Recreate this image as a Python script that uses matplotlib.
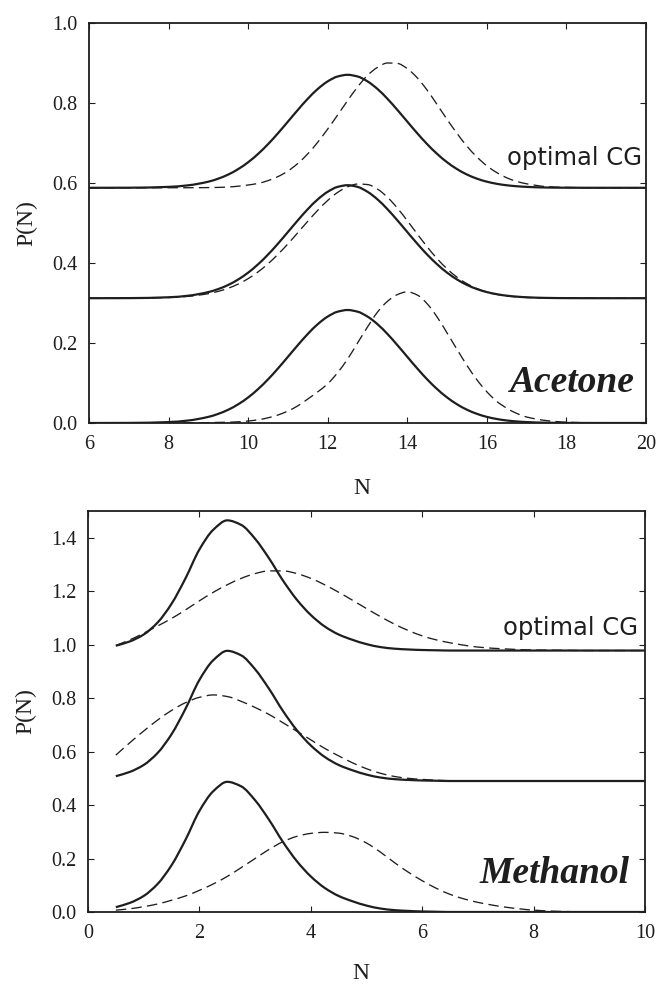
import matplotlib
matplotlib.use("Agg")
import numpy as np
import matplotlib.pyplot as plt
from matplotlib.path import Path
from matplotlib.patches import PathPatch
from matplotlib.ticker import FormatStrFormatter

plt.rcParams['font.family'] = ['Liberation Serif', 'DejaVu Serif']
plt.rcParams['lines.scale_dashes'] = False

# ---------------- Acetone (top panel) ----------------
N_ace = [6, 7, 8, 8.5, 9, 9.25, 9.5, 9.75, 10, 10.25, 10.5, 10.75, 11, 11.25, 11.5,
         11.75, 12, 12.25, 12.5, 12.75, 13, 13.25, 13.5, 13.75, 14, 14.25, 14.5,
         14.75, 15, 15.25, 15.5, 15.75, 16, 16.25, 16.5, 16.75, 17, 17.5, 18, 19, 20]
# reference (solid) distribution
ace_ref = [0.0, 0.0002, 0.0023, 0.0063, 0.0153, 0.0229, 0.0332, 0.0468, 0.0639, 0.0848,
           0.1091, 0.1364, 0.1655, 0.1948, 0.2227, 0.2471, 0.2661, 0.2783, 0.2825, 0.2783,
           0.2661, 0.2471, 0.2227, 0.1948, 0.1655, 0.1364, 0.1091, 0.0848, 0.0639, 0.0468,
           0.0332, 0.0229, 0.0153, 0.0100, 0.0063, 0.0039, 0.0023, 0.0007, 0.0002, 0.0, 0.0]
# CG models (dashed), bottom -> top
ace_cg1 = [0.0, 0.0, 0.0, 0.0, 0.001, 0.0015, 0.002, 0.003, 0.005, 0.008, 0.013, 0.020,
           0.030, 0.043, 0.060, 0.078, 0.098, 0.126, 0.160, 0.200, 0.240, 0.277, 0.304,
           0.321, 0.328, 0.320, 0.298, 0.265, 0.225, 0.184, 0.144, 0.108, 0.078, 0.054,
           0.037, 0.024, 0.015, 0.006, 0.002, 0.0, 0.0]
ace_cg2 = [0.0, 0.0002, 0.0017, 0.0047, 0.0114, 0.0171, 0.0249, 0.0354, 0.0489, 0.0658,
           0.0861, 0.1097, 0.1359, 0.1639, 0.1925, 0.2198, 0.2444, 0.2645, 0.2785, 0.2854,
           0.2841, 0.2728, 0.2526, 0.2254, 0.1938, 0.1607, 0.1284, 0.0989, 0.0734, 0.0526,
           0.0363, 0.0241, 0.0154, 0.0095, 0.0057, 0.0033, 0.0018, 0.0005, 0.0001, 0.0, 0.0]
ace_cg3 = [0.0, 0.0, 0.0001, 0.0002, 0.0005, 0.001, 0.002, 0.004, 0.007, 0.011, 0.018,
           0.028, 0.042, 0.061, 0.085, 0.114, 0.147, 0.182, 0.218, 0.252, 0.281, 0.301,
           0.312, 0.311, 0.298, 0.275, 0.244, 0.208, 0.171, 0.136, 0.104, 0.077, 0.055,
           0.038, 0.025, 0.016, 0.010, 0.003, 0.001, 0.0, 0.0]
ace_offsets = [0.0, 0.312, 0.588]

# ---------------- Methanol (bottom panel) ----------------
N_met = [0.5, 0.75, 1.0, 1.25, 1.5, 1.75, 2.0, 2.25, 2.5, 2.75, 3.0, 3.25, 3.5, 3.75,
         4.0, 4.25, 4.5, 4.75, 5.0, 5.25, 5.5, 5.75, 6.0, 6.25, 6.5, 6.75, 7.0, 7.5,
         8.0, 8.5, 9.0, 9.5, 10.0]
met_ref = [0.018, 0.034, 0.060, 0.105, 0.175, 0.270, 0.378, 0.452, 0.487, 0.470, 0.418,
           0.345, 0.262, 0.190, 0.133, 0.090, 0.060, 0.040, 0.024, 0.013, 0.007, 0.004,
           0.002, 0.001, 0.0, 0.0, 0.0, 0.0, 0.0, 0.0, 0.0, 0.0, 0.0]
met_cg1 = [0.007, 0.012, 0.020, 0.030, 0.044, 0.060, 0.081, 0.105, 0.133, 0.166, 0.200,
           0.234, 0.263, 0.283, 0.294, 0.298, 0.295, 0.282, 0.258, 0.224, 0.185, 0.149,
           0.117, 0.089, 0.066, 0.049, 0.036, 0.018, 0.007, 0.002, 0.0005, 0.0, 0.0]
met_cg2 = [0.097, 0.143, 0.187, 0.228, 0.264, 0.293, 0.313, 0.322, 0.316, 0.298, 0.275,
           0.249, 0.218, 0.186, 0.154, 0.122, 0.094, 0.068, 0.046, 0.029, 0.017, 0.010,
           0.006, 0.003, 0.001, 0.0, 0.0, 0.0, 0.0, 0.0, 0.0, 0.0, 0.0]
met_cg3 = [0.019, 0.040, 0.065, 0.092, 0.120, 0.152, 0.186, 0.218, 0.246, 0.270, 0.288,
           0.298, 0.298, 0.288, 0.270, 0.246, 0.218, 0.188, 0.157, 0.127, 0.099, 0.075,
           0.055, 0.040, 0.029, 0.020, 0.013, 0.006, 0.002, 0.001, 0.0, 0.0, 0.0]
met_offsets = [0.0, 0.49, 0.978]

COL = '#1e1e1e'
W, H = 658, 986
fig = plt.figure(figsize=(W / 100, H / 100), dpi=100)


def px_axes(l, t, r, b):
    return fig.add_axes([l / W, 1 - b / H, (r - l) / W, (b - t) / H])


def smooth_path(x, y):
    """Monotone cubic Bezier path passing through the given data points."""
    x = np.asarray(x, float)
    y = np.asarray(y, float)
    h = np.diff(x)
    d = np.diff(y) / h
    m = np.zeros_like(y)
    m[0], m[-1] = d[0], d[-1]
    for k in range(1, len(x) - 1):
        if d[k - 1] * d[k] <= 0:
            m[k] = 0.0
        else:
            w1 = 2 * h[k] + h[k - 1]
            w2 = h[k] + 2 * h[k - 1]
            m[k] = (w1 + w2) / (w1 / d[k - 1] + w2 / d[k])
    verts = [(x[0], y[0])]
    codes = [Path.MOVETO]
    for k in range(len(x) - 1):
        verts += [(x[k] + h[k] / 3, y[k] + m[k] * h[k] / 3),
                  (x[k + 1] - h[k] / 3, y[k + 1] - m[k + 1] * h[k] / 3),
                  (x[k + 1], y[k + 1])]
        codes += [Path.CURVE4] * 3
    return Path(verts, codes)


def curve(ax, N, vals, off, dashed):
    p = smooth_path(N, [v + off for v in vals])
    if dashed:
        patch = PathPatch(p, fill=False, edgecolor=COL, lw=0.95,
                          linestyle=(0, (7.5, 3.8)), capstyle='butt')
    else:
        patch = PathPatch(p, fill=False, edgecolor=COL, lw=1.6)
    ax.add_patch(patch)


def style(ax, xlim, ylim, xticks, yticks, xlabel_y):
    ax.set_xticks(xticks)
    ax.set_yticks(yticks)
    ax.set_xlim(*xlim)
    ax.set_ylim(*ylim)
    ax.yaxis.set_major_formatter(FormatStrFormatter('%.1f'))
    ax.tick_params(direction='in', top=True, right=True, length=4.5, width=0.8,
                   pad=8.5, labelsize=14.5, colors=COL)
    for s in ax.spines.values():
        s.set_linewidth(1.3)
        s.set_color(COL)
    ax.set_xlabel('N', fontsize=17, color=COL, va='baseline')
    ax.set_ylabel('P(N)', fontsize=17, color=COL)
    ax.yaxis.set_label_coords(-0.093, 0.5)
    ax.xaxis.set_label_coords(0.49, xlabel_y)


def draw(ax, N, ref, cgs, offsets):
    for cg, off in zip(cgs, offsets):
        curve(ax, N, cg, off, True)
    for off in offsets:
        curve(ax, N, ref, off, False)


# Top panel
ax1 = px_axes(89, 23, 646, 423)
draw(ax1, N_ace, ace_ref, [ace_cg1, ace_cg2, ace_cg3], ace_offsets)
style(ax1, (6, 20), (0, 1.0), [6, 8, 10, 12, 14, 16, 18, 20],
      [0.0, 0.2, 0.4, 0.6, 0.8, 1.0], -0.178)
ax1.text(19.9, 0.645, 'optimal CG', family='DejaVu Sans', fontsize=17.5,
         ha='right', va='baseline', color=COL)
ax1.text(19.72, 0.078, 'Acetone', fontsize=27, fontweight='bold', fontstyle='italic',
         ha='right', va='baseline', color=COL)

# Bottom panel
ax2 = px_axes(88, 511, 645, 912)
draw(ax2, N_met, met_ref, [met_cg1, met_cg2, met_cg3], met_offsets)
style(ax2, (0, 10), (0, 1.5), [0, 2, 4, 6, 8, 10],
      [0.0, 0.2, 0.4, 0.6, 0.8, 1.0, 1.2, 1.4], -0.168)
ax2.text(9.87, 1.036, 'optimal CG', family='DejaVu Sans', fontsize=17.5,
         ha='right', va='baseline', color=COL)
ax2.text(9.73, 0.108, 'Methanol', fontsize=27, fontweight='bold', fontstyle='italic',
         ha='right', va='baseline', color=COL)

fig.savefig('out.png', dpi=100)
